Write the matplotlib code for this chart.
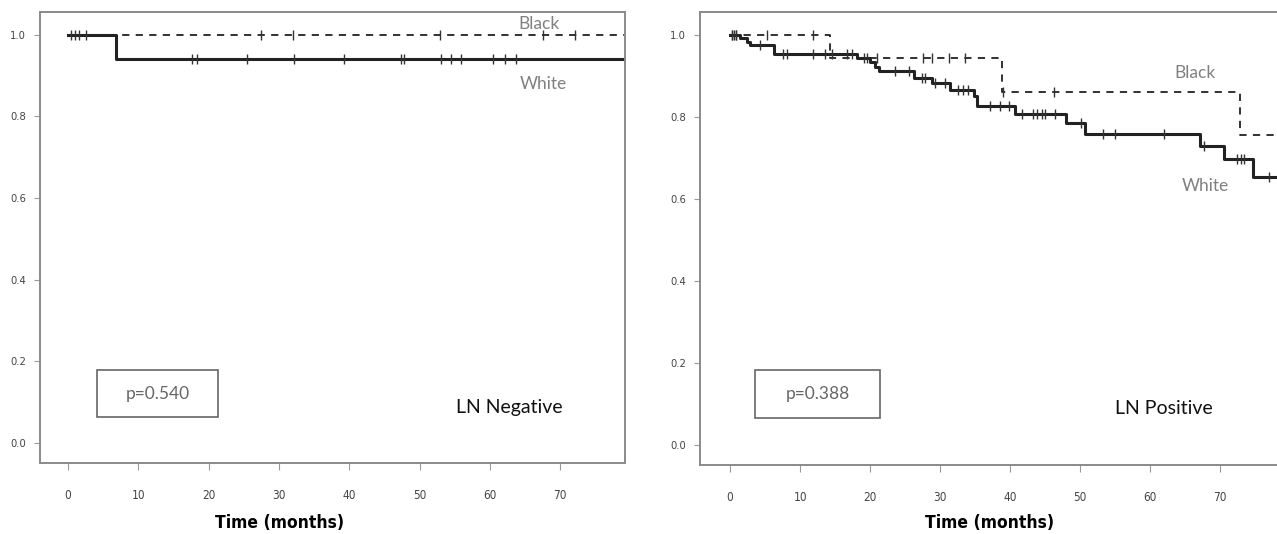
import numpy as np
import matplotlib
matplotlib.use("Agg")
import matplotlib.pyplot as plt
from matplotlib.patches import Rectangle

plt.rcParams['font.family'] = ['Lato', 'DejaVu Sans']

# ---- LN negative panel ----
neg_black_t = [0]
neg_black_s = [1.0]
neg_black_end = 79.5
neg_black_cens = [27.4, 32.0, 52.9, 67.6, 72.1]

neg_white_t = [0, 6.8]
neg_white_s = [1.0, 0.94]
neg_white_end = 79.5
neg_white_cens = [0.4, 1.0, 1.6, 2.6, 17.6, 18.4, 25.5, 32.2, 39.3, 47.3, 47.8,
                  53.0, 54.5, 55.9, 60.5, 62.2, 63.7]

# ---- LN positive panel ----
pos_black_t = [0, 14.3, 38.8, 72.8]
pos_black_s = [1.0, 0.945, 0.86, 0.756]
pos_black_end = 80
pos_black_cens = [0.3, 0.9, 5.2, 11.9, 21.0, 27.6, 28.8, 31.2, 33.6, 38.9, 46.2]

pos_white_t = [0, 1.4, 2.4, 2.9, 6.2, 18.1, 20.0, 20.7, 21.2, 26.2, 28.8, 31.4,
               34.8, 35.2, 40.7, 47.9, 50.7, 67.1, 70.5, 74.7]
pos_white_s = [1.0, 0.992, 0.984, 0.975, 0.953, 0.945, 0.935, 0.923, 0.911, 0.896,
               0.884, 0.866, 0.85, 0.827, 0.808, 0.785, 0.758, 0.729, 0.697, 0.654]
pos_white_end = 80
pos_white_cens = [0.2, 0.5, 0.9, 4.3, 7.6, 8.1, 11.9, 13.6, 14.5, 16.7, 17.4, 19.1, 19.5,
                  23.6, 25.5, 27.4, 27.9, 29.3, 30.7, 32.6, 33.3, 34.0, 37.1, 38.6, 39.8,
                  41.7, 43.3, 43.8, 44.5, 45.0, 46.4, 50.1, 53.3, 54.9, 62.0, 67.7,
                  72.4, 72.9, 73.4, 76.9]

xticks = [0, 10, 20, 30, 40, 50, 60, 70]
yticks = [0.0, 0.2, 0.4, 0.6, 0.8, 1.0]

narrow = dict(family='DejaVu Sans', stretch='condensed')


def surv_at(t, times, levels):
    idx = np.searchsorted(times, t, side='right') - 1
    return np.array(levels)[idx]


def km(ax, times, levels, end, cens, ls, lw):
    xs = list(times) + [end]
    ys = list(levels) + [levels[-1]]
    ax.step(xs, ys, where='post', color='#222222', linestyle=ls, linewidth=lw)
    ax.plot(cens, surv_at(np.array(cens), times, levels), linestyle='none',
            marker='|', markersize=7, markeredgewidth=1.0, color='#333333')


W, H = 1277, 534
fig = plt.figure(figsize=(W / 100, H / 100), dpi=100)

ax1 = fig.add_axes([40 / W, 1 - 463 / H, 585 / W, 451 / H])
ax2 = fig.add_axes([700 / W, 1 - 465 / H, 577 / W, 453 / H])

km(ax1, neg_black_t, neg_black_s, neg_black_end, neg_black_cens, (0, (4, 3.5)), 1.3)
km(ax1, neg_white_t, neg_white_s, neg_white_end, neg_white_cens, '-', 2.2)
km(ax2, pos_black_t, pos_black_s, pos_black_end, pos_black_cens, (0, (4, 3.5)), 1.3)
km(ax2, pos_white_t, pos_white_s, pos_white_end, pos_white_cens, '-', 2.2)

ax1.set_xlim(-3.98, 79.2)
ax2.set_xlim(-4.3, 78.1)
for ax in (ax1, ax2):
    ax.set_ylim(-0.049, 1.056)
    ax.set_xticks(xticks)
    ax.set_yticks(yticks)
    ax.set_yticklabels([f"{v:.1f}" for v in yticks])
    for sp in ax.spines.values():
        sp.set_color('#8a8a8a')
        sp.set_linewidth(1.4)
    ax.tick_params(axis='x', length=5, width=0.8, color='#999999', pad=14,
                   labelsize=8.5, labelcolor='#444444')
    ax.tick_params(axis='y', length=4, width=0.8, color='#999999', pad=6,
                   labelsize=8, labelcolor='#444444')
    for lab in ax.get_xticklabels() + ax.get_yticklabels():
        lab.set_family('DejaVu Sans')
        lab.set_stretch('condensed')
ax2.spines['right'].set_visible(False)

# curve labels
ax1.text(67.0, 1.026, "Black", color='#808080', fontsize=12.5, ha='center', va='center')
ax1.text(67.6, 0.879, "White", color='#808080', fontsize=12.5, ha='center', va='center')
ax2.text(66.4, 0.907, "Black", color='#808080', fontsize=12.5, ha='center', va='center')
ax2.text(67.9, 0.632, "White", color='#808080', fontsize=12.5, ha='center', va='center')

# p-value boxes
ax1.add_patch(Rectangle((0.0974, 0.102), 0.2066, 0.104, transform=ax1.transAxes,
                        fill=False, ec='#666666', lw=1.2))
ax1.text(0.2007, 0.154, "p=0.540", transform=ax1.transAxes, color='#666666',
         fontsize=12.5, ha='center', va='center')
ax2.add_patch(Rectangle((0.0953, 0.104), 0.2167, 0.106, transform=ax2.transAxes,
                        fill=False, ec='#666666', lw=1.2))
ax2.text(0.2036, 0.157, "p=0.388", transform=ax2.transAxes, color='#666666',
         fontsize=12.5, ha='center', va='center')

ax1.text(62.8, 0.088, "LN Negative", color='#111111', fontsize=14, ha='center', va='center')
ax2.text(62.0, 0.088, "LN Positive", color='#111111', fontsize=14, ha='center', va='center')

fig.text(280 / W, 1 - 523 / H, "Time (months)", fontsize=12.5, fontweight='bold',
         ha='center', va='center', **narrow)
fig.text(990 / W, 1 - 523 / H, "Time (months)", fontsize=12.5, fontweight='bold',
         ha='center', va='center', **narrow)

fig.savefig('out.png', dpi=100)
